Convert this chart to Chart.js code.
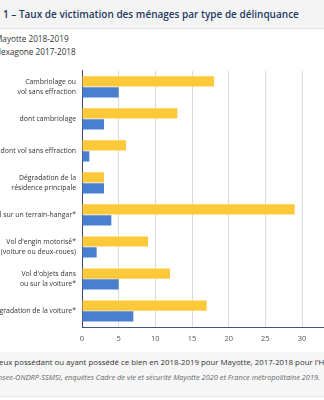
<!DOCTYPE html>
<html>
<head>
<meta charset="utf-8">
<script src="https://cdn.jsdelivr.net/npm/chart.js@4"></script>
<style>
  html, body { margin: 0; padding: 0; background: #fff; overflow: hidden; }
  body { width: 324px; height: 400px; position: relative; font-family: "Open Sans", sans-serif; }
  .title-band {
    position: absolute; left: 0; top: 0; width: 324px; height: 28px;
    background: #f4f4f4; border-bottom: 1px solid #e3e3e3;
  }
  .title {
    position: absolute; left: 3px; top: 7px; white-space: nowrap;
    font-size: 10px; font-weight: 600; color: #1f3b63;
  }
  .legend { position: absolute; left: -5px; font-size: 8.2px; color: #333; white-space: nowrap; }
  .footer {
    position: absolute; left: 0; top: 352px; width: 324px; height: 44px;
    background: #f6f6f6; border-bottom: 1px solid #e6e6e6;
  }
  .note { position: absolute; white-space: nowrap; font-size: 7.85px; color: #333; }
  .src { font-style: italic; color: #666; font-size: 7.4px; }
  #wrap { position: absolute; left: -40px; top: 60px; width: 390px; height: 290px; }
</style>
</head>
<body>
<div class="title-band"><div class="title">1 – Taux de victimation des ménages par type de délinquance</div></div>
<div class="legend" style="top:33px">Mayotte 2018-2019</div>
<div class="legend" style="top:46px">Hexagone 2017-2018</div>
<div id="wrap"><canvas id="chart"></canvas></div>
<div class="footer">
  <div class="note" style="left:-1px; top:5px">eux possédant ou ayant possédé ce bien en 2018-2019 pour Mayotte, 2017-2018 pour l'Hexagone.</div>
  <div class="note src" style="left:-4px; top:20px">Insee-ONDRP-SSMSI, enquêtes Cadre de vie et sécurité Mayotte 2020 et France métropolitaine 2019.</div>
</div>
<script>
const categories = [
  ["Cambriolage ou", "vol sans effraction"],
  "dont cambriolage",
  "dont vol sans effraction",
  ["Dégradation de la", "résidence principale"],
  "Vol sur un terrain-hangar*",
  ["Vol d'engin motorisé*", "(voiture ou deux-roues)"],
  ["Vol d'objets dans", "ou sur la voiture*"],
  "Dégradation de la voiture*"
];
const mayotte = [18, 13, 6, 3, 29, 9, 12, 17];
const hexagone = [5, 3, 1, 3, 4, 2, 5, 7];
const xTicks = [0, 5, 10, 15, 20, 25, 30, 35];

new Chart(document.getElementById("chart"), {
  type: "bar",
  data: {
    labels: categories,
    datasets: [
      { label: "Mayotte 2018-2019", data: mayotte, backgroundColor: "#fdc93b",
        categoryPercentage: 0.68, barPercentage: 0.94 },
      { label: "Hexagone 2017-2018", data: hexagone, backgroundColor: "#4a7fd0",
        categoryPercentage: 0.68, barPercentage: 0.94 }
    ]
  },
  options: {
    indexAxis: "y",
    responsive: true,
    maintainAspectRatio: false,
    animation: false,
    layout: { padding: { top: 8, right: 8, left: 0, bottom: 0 } },
    plugins: { legend: { display: false }, tooltip: { enabled: false } },
    scales: {
      x: {
        min: 0, max: 35,
        afterBuildTicks: (s) => { s.ticks = xTicks.map(v => ({ value: v })); },
        grid: { color: "#dcdcdc", drawTicks: false, lineWidth: 1 },
        border: { color: "#4b5385", width: 1 },
        ticks: { color: "#555", font: { family: "Open Sans", size: 7.5 }, padding: 7 }
      },
      y: {
        afterFit: (s) => { s.width = 122; },
        grid: { display: false, drawTicks: false },
        border: { color: "#3b4478", width: 1 },
        ticks: { color: "#333", font: { family: "Open Sans", size: 6.9, lineHeight: 1.4 }, padding: 6 }
      }
    }
  }
});
</script>
</body>
</html>
